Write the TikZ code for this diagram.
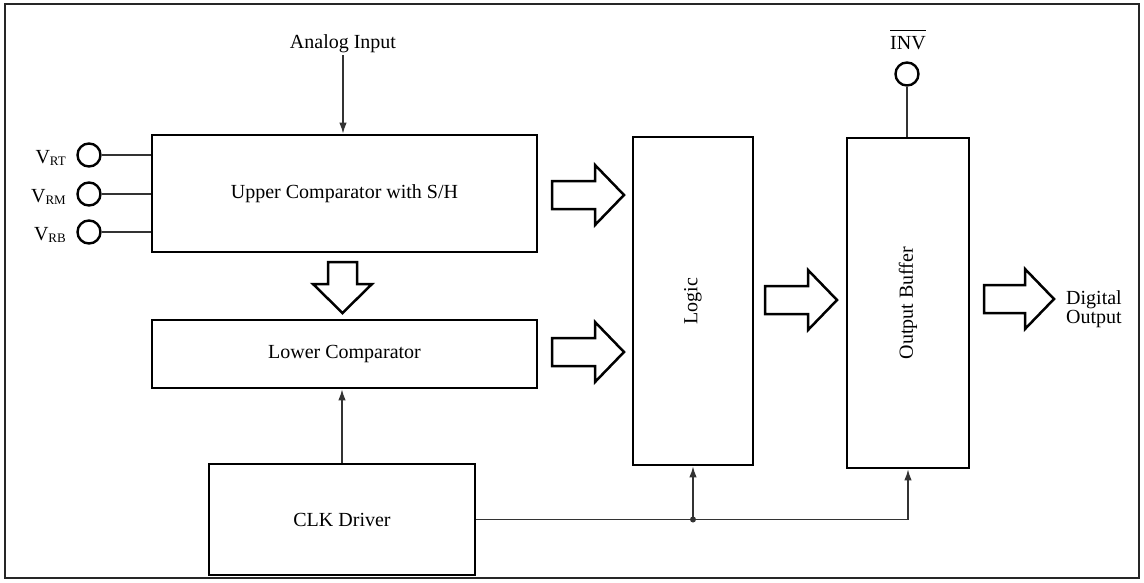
\documentclass[tikz,border=0pt]{standalone}
\usepackage{fontspec}
\usepackage{graphicx}
\setmainfont{Liberation Serif}
\usetikzlibrary{arrows.meta}
\newcommand\ovlbar[1]{\leavevmode\setbox0\hbox{#1}\rlap{\rule[\dimexpr\ht0+5pt\relax]{\wd0}{1.2pt}}\box0}
\newcommand\hollowR[3]{%
  \draw[hollow] (#1,{#3-14}) -- ({#2-29},{#3-14}) -- ({#2-29},{#3-30}) -- (#2,#3)
    -- ({#2-29},{#3+30}) -- ({#2-29},{#3+14}) -- (#1,{#3+14}) -- cycle;}
\begin{document}
\begin{tikzpicture}[x=1pt,y=-1pt,
  every node/.style={font=\fontsize{20}{19.5}\selectfont, inner sep=0pt},
  blk/.style={draw, line width=2.7pt, minimum width=#1},
  hollow/.style={draw, line width=2.5pt, line join=miter, fill=white},
  pin/.style={draw, circle, line width=2.4pt, minimum size=23pt},
  conn/.style={draw, line width=1.4pt, black!80},
  tip/.style={-{Latex[length=11pt,width=7.5pt]}}
]
\useasboundingbox (0,0) rectangle (1144,582);
\draw[line width=2pt, black!85] (5,4) rectangle (1139,578);

% blocks
\node[blk=385pt, minimum height=117pt] (upper) at (344.5,193.5) {Upper Comparator with S/H};
\node[blk=385pt, minimum height=68pt] (lower) at (344.5,354) {Lower Comparator};
\node[blk=266pt, minimum height=111pt] (clk) at (342,519.5) {CLK Driver};
\node[blk=120pt, minimum height=328pt] (logic) at (693,301) {\rotatebox{90}{Logic}};
\node[blk=122pt, minimum height=330pt] (buffer) at (908,303) {\rotatebox{90}{Output Buffer}};

% analog input
\node[anchor=base, inner sep=0pt] (ain) at (343,48) {Analog Input};
\coordinate (ainend) at (343,55);
\draw[conn, tip] (ainend) -- (ainend |- upper.north);

% reference pins
\node[pin] (vrt) at (89,155) {};
\node[pin] (vrm) at (89,194) {};
\node[pin] (vrb) at (89,232) {};
\node[anchor=base east] (lrt) at (66,163) {V\raisebox{-2pt}{\fontsize{13}{13}\selectfont RT}};
\node[anchor=base east] (lrm) at (66,202) {V\raisebox{-2pt}{\fontsize{13}{13}\selectfont RM}};
\node[anchor=base east] (lrb) at (66,240) {V\raisebox{-2pt}{\fontsize{13}{13}\selectfont RB}};
\draw[conn] (vrt.east) -- (vrt.east -| upper.west);
\draw[conn] (vrm.east) -- (vrm.east -| upper.west);
\draw[conn] (vrb.east) -- (vrb.east -| upper.west);

% INV pin
\node[anchor=base] (invl) at (908,49) {\ovlbar{INV}};
\node[pin] (inv) at (907,74) {};
\draw[conn] (inv.south) -- (inv.south |- buffer.north);

% hollow bus arrows
\draw[hollow] (328,262) -- (357,262) -- (357,284) -- (372,284) -- (342.5,313)
  -- (313,284) -- (328,284) -- cycle;
\hollowR{552}{624}{195}
\hollowR{552}{624}{352}
\hollowR{765}{837}{300}
\hollowR{984}{1054}{299}

\node[anchor=west, align=left] (dout) at (1066,309) {Digital\\Output};

% clock distribution
\draw[conn, tip] (clk.north) -- (clk.north |- lower.south);
\coordinate (split) at (logic.south |- clk.east);
\draw[conn, tip] (clk.east) -| (buffer.south);
\draw[conn, tip] (split) -- (logic.south);
\fill[black!80] (split) circle (3pt);
\end{tikzpicture}
\end{document}
